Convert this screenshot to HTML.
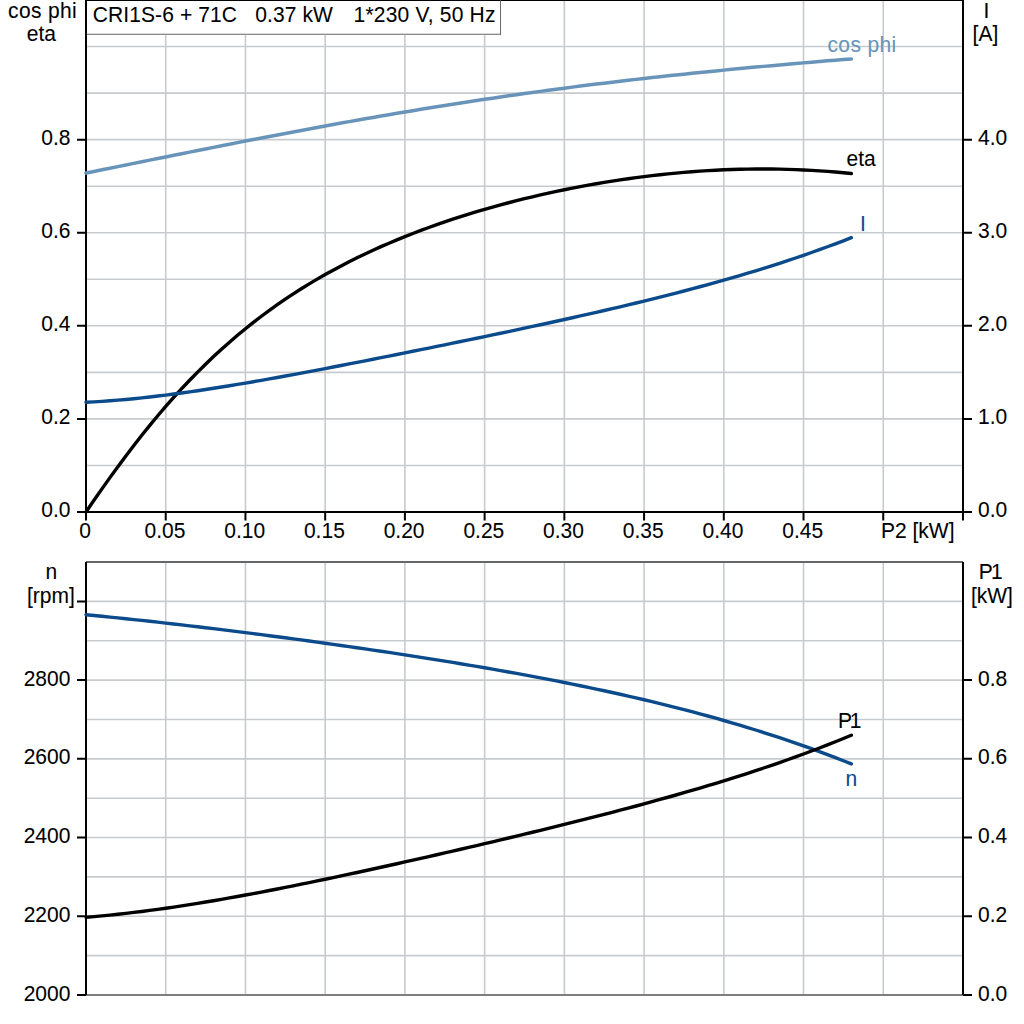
<!DOCTYPE html><html><head><meta charset="utf-8"><style>html,body{margin:0;padding:0;background:#fff;}svg{display:block;}text{font-family:"Liberation Sans",sans-serif;font-size:21px;fill:#000;stroke:#000;stroke-width:0.08px;}</style></head><body>
<svg width="1024" height="1024" viewBox="0 0 1024 1024">
<rect width="1024" height="1024" fill="#fff"/>
<path d="M165.73,0V512 M165.73,562V995 M245.45,0V512 M245.45,562V995 M325.18,0V512 M325.18,562V995 M404.90,0V512 M404.90,562V995 M484.62,0V512 M484.62,562V995 M564.35,0V512 M564.35,562V995 M644.08,0V512 M644.08,562V995 M723.80,0V512 M723.80,562V995 M803.52,0V512 M803.52,562V995 M883.25,0V512 M883.25,562V995 M86,465.45H963 M86,955.64H963 M86,418.91H963 M86,916.28H963 M86,372.37H963 M86,876.92H963 M86,325.82H963 M86,837.56H963 M86,279.27H963 M86,798.20H963 M86,232.73H963 M86,758.84H963 M86,186.19H963 M86,719.48H963 M86,139.64H963 M86,680.12H963 M86,93.10H963 M86,640.76H963 M86,46.55H963 M86,601.40H963" stroke="#c8cbce" stroke-width="1.6" fill="none"/>
<path d="M86,562H963" stroke="#656669" stroke-width="2" fill="none"/>
<path d="M86,995H963" stroke="#7e7e7e" stroke-width="2" fill="none"/>
<path d="M86,0.5H963" stroke="#000" stroke-width="1" fill="none"/>
<path d="M86,0V513 M963,0V513 M85,512H964 M86,562V995 M963,562V995 M77,512.00H86 M963,512.00H972 M77,418.91H86 M963,418.91H972 M77,325.82H86 M963,325.82H972 M77,232.73H86 M963,232.73H972 M77,139.64H86 M963,139.64H972 M86.00,512V520.5 M165.73,512V520.5 M245.45,512V520.5 M325.18,512V520.5 M404.90,512V520.5 M484.62,512V520.5 M564.35,512V520.5 M644.08,512V520.5 M723.80,512V520.5 M803.52,512V520.5 M883.25,512V520.5 M962.98,512V520.5 M77,995.00H86 M77,916.28H86 M77,837.56H86 M77,758.84H86 M77,680.12H86 M77,601.40H86 M963,995.00H972 M963,916.28H972 M963,837.56H972 M963,758.84H972 M963,680.12H972" stroke="#000" stroke-width="2" fill="none"/>
<rect x="86" y="0" width="414.5" height="34.5" fill="#fff" stroke="none"/>
<path d="M86,33.5H500" stroke="#dadada" stroke-width="1" fill="none"/>
<path d="M86,34.5H500.5" stroke="#8a8a8a" stroke-width="1" fill="none"/>
<path d="M500.5,0V35" stroke="#6a6a6a" stroke-width="1" fill="none"/>
<path d="M86,0.5H500.5" stroke="#000" stroke-width="1" fill="none"/>
<path d="M86,0V35" stroke="#000" stroke-width="2" fill="none"/>
<path d="M86.00,173.05 L93.97,171.44 L101.94,169.84 L109.92,168.23 L117.89,166.61 L125.86,165.00 L133.84,163.39 L141.81,161.78 L149.78,160.16 L157.75,158.55 L165.73,156.94 L173.70,155.34 L181.67,153.74 L189.64,152.14 L197.62,150.54 L205.59,148.95 L213.56,147.37 L221.53,145.79 L229.50,144.22 L237.48,142.65 L245.45,141.09 L253.42,139.54 L261.39,137.99 L269.37,136.46 L277.34,134.93 L285.31,133.41 L293.28,131.91 L301.26,130.41 L309.23,128.92 L317.20,127.44 L325.17,125.98 L333.15,124.52 L341.12,123.08 L349.09,121.65 L357.06,120.23 L365.04,118.82 L373.01,117.42 L380.98,116.04 L388.95,114.67 L396.93,113.32 L404.90,111.98 L412.87,110.65 L420.84,109.33 L428.82,108.03 L436.79,106.74 L444.76,105.47 L452.74,104.21 L460.71,102.97 L468.68,101.74 L476.65,100.53 L484.62,99.33 L492.60,98.15 L500.57,96.98 L508.54,95.82 L516.52,94.68 L524.49,93.56 L532.46,92.45 L540.43,91.36 L548.40,90.28 L556.38,89.21 L564.35,88.16 L572.32,87.13 L580.30,86.11 L588.27,85.10 L596.24,84.11 L604.21,83.14 L612.19,82.17 L620.16,81.23 L628.13,80.29 L636.10,79.37 L644.08,78.47 L652.05,77.58 L660.02,76.70 L667.99,75.83 L675.97,74.98 L683.94,74.14 L691.91,73.31 L699.88,72.50 L707.86,71.69 L715.83,70.90 L723.80,70.12 L731.77,69.35 L739.75,68.59 L747.72,67.85 L755.69,67.11 L763.66,66.38 L771.63,65.66 L779.61,64.95 L787.58,64.25 L795.55,63.56 L803.52,62.87 L811.50,62.19 L819.47,61.52 L827.44,60.85 L835.42,60.20 L843.39,59.54 L851.36,58.89" stroke="#6994ba" stroke-width="3.5" fill="none" stroke-linecap="round" stroke-linejoin="round"/>
<path d="M86.00,512.00 L93.97,500.32 L101.94,488.85 L109.92,477.62 L117.89,466.63 L125.86,455.90 L133.84,445.44 L141.81,435.26 L149.78,425.36 L157.75,415.76 L165.73,406.44 L173.70,397.42 L181.67,388.69 L189.64,380.24 L197.62,372.08 L205.59,364.19 L213.56,356.58 L221.53,349.23 L229.50,342.15 L237.48,335.31 L245.45,328.73 L253.42,322.38 L261.39,316.25 L269.37,310.35 L277.34,304.66 L285.31,299.18 L293.28,293.90 L301.26,288.80 L309.23,283.88 L317.20,279.14 L325.17,274.57 L333.15,270.15 L341.12,265.89 L349.09,261.78 L357.06,257.81 L365.04,253.97 L373.01,250.26 L380.98,246.67 L388.95,243.21 L396.93,239.85 L404.90,236.61 L412.87,233.47 L420.84,230.43 L428.82,227.49 L436.79,224.64 L444.76,221.89 L452.74,219.21 L460.71,216.63 L468.68,214.12 L476.65,211.70 L484.62,209.35 L492.60,207.08 L500.57,204.88 L508.54,202.75 L516.52,200.69 L524.49,198.70 L532.46,196.78 L540.43,194.92 L548.40,193.13 L556.38,191.40 L564.35,189.74 L572.32,188.14 L580.30,186.60 L588.27,185.13 L596.24,183.72 L604.21,182.37 L612.19,181.09 L620.16,179.86 L628.13,178.70 L636.10,177.61 L644.08,176.57 L652.05,175.60 L660.02,174.69 L667.99,173.85 L675.97,173.08 L683.94,172.37 L691.91,171.72 L699.88,171.14 L707.86,170.63 L715.83,170.19 L723.80,169.81 L731.77,169.51 L739.75,169.27 L747.72,169.10 L755.69,169.01 L763.66,168.98 L771.63,169.03 L779.61,169.15 L787.58,169.34 L795.55,169.61 L803.52,169.95 L811.50,170.36 L819.47,170.84 L827.44,171.40 L835.42,172.04 L843.39,172.75 L851.36,173.53" stroke="#000" stroke-width="3.4" fill="none" stroke-linecap="round" stroke-linejoin="round"/>
<path d="M86.00,402.23 L93.97,401.83 L101.94,401.34 L109.92,400.78 L117.89,400.15 L125.86,399.45 L133.84,398.69 L141.81,397.87 L149.78,396.99 L157.75,396.06 L165.73,395.08 L173.70,394.05 L181.67,392.97 L189.64,391.85 L197.62,390.70 L205.59,389.51 L213.56,388.28 L221.53,387.02 L229.50,385.73 L237.48,384.41 L245.45,383.07 L253.42,381.70 L261.39,380.31 L269.37,378.90 L277.34,377.47 L285.31,376.03 L293.28,374.56 L301.26,373.08 L309.23,371.59 L317.20,370.08 L325.17,368.56 L333.15,367.03 L341.12,365.49 L349.09,363.95 L357.06,362.39 L365.04,360.82 L373.01,359.25 L380.98,357.67 L388.95,356.08 L396.93,354.48 L404.90,352.88 L412.87,351.28 L420.84,349.67 L428.82,348.05 L436.79,346.43 L444.76,344.80 L452.74,343.16 L460.71,341.52 L468.68,339.88 L476.65,338.22 L484.62,336.56 L492.60,334.90 L500.57,333.22 L508.54,331.54 L516.52,329.85 L524.49,328.15 L532.46,326.44 L540.43,324.73 L548.40,323.00 L556.38,321.25 L564.35,319.50 L572.32,317.73 L580.30,315.95 L588.27,314.15 L596.24,312.34 L604.21,310.51 L612.19,308.66 L620.16,306.79 L628.13,304.90 L636.10,302.99 L644.08,301.06 L652.05,299.10 L660.02,297.11 L667.99,295.10 L675.97,293.06 L683.94,291.00 L691.91,288.89 L699.88,286.76 L707.86,284.59 L715.83,282.39 L723.80,280.15 L731.77,277.87 L739.75,275.55 L747.72,273.18 L755.69,270.77 L763.66,268.32 L771.63,265.81 L779.61,263.26 L787.58,260.65 L795.55,257.99 L803.52,255.28 L811.50,252.50 L819.47,249.67 L827.44,246.77 L835.42,243.81 L843.39,240.79 L851.36,237.69" stroke="#0b4a8b" stroke-width="3.4" fill="none" stroke-linecap="round" stroke-linejoin="round"/>
<path d="M86.00,614.74 L93.97,615.51 L101.94,616.29 L109.92,617.09 L117.89,617.90 L125.86,618.73 L133.84,619.57 L141.81,620.43 L149.78,621.30 L157.75,622.18 L165.73,623.07 L173.70,623.98 L181.67,624.89 L189.64,625.82 L197.62,626.76 L205.59,627.72 L213.56,628.68 L221.53,629.65 L229.50,630.63 L237.48,631.63 L245.45,632.63 L253.42,633.65 L261.39,634.67 L269.37,635.70 L277.34,636.75 L285.31,637.80 L293.28,638.86 L301.26,639.94 L309.23,641.02 L317.20,642.11 L325.17,643.22 L333.15,644.33 L341.12,645.45 L349.09,646.59 L357.06,647.74 L365.04,648.89 L373.01,650.06 L380.98,651.24 L388.95,652.43 L396.93,653.63 L404.90,654.85 L412.87,656.08 L420.84,657.32 L428.82,658.58 L436.79,659.85 L444.76,661.13 L452.74,662.43 L460.71,663.74 L468.68,665.07 L476.65,666.42 L484.62,667.79 L492.60,669.17 L500.57,670.57 L508.54,671.99 L516.52,673.43 L524.49,674.89 L532.46,676.37 L540.43,677.87 L548.40,679.40 L556.38,680.95 L564.35,682.52 L572.32,684.12 L580.30,685.74 L588.27,687.39 L596.24,689.07 L604.21,690.77 L612.19,692.51 L620.16,694.27 L628.13,696.07 L636.10,697.90 L644.08,699.77 L652.05,701.66 L660.02,703.60 L667.99,705.57 L675.97,707.58 L683.94,709.62 L691.91,711.71 L699.88,713.84 L707.86,716.01 L715.83,718.23 L723.80,720.49 L731.77,722.79 L739.75,725.15 L747.72,727.55 L755.69,730.00 L763.66,732.51 L771.63,735.07 L779.61,737.68 L787.58,740.35 L795.55,743.08 L803.52,745.87 L811.50,748.71 L819.47,751.62 L827.44,754.60 L835.42,757.64 L843.39,760.74 L851.36,763.92" stroke="#0b4a8b" stroke-width="3.4" fill="none" stroke-linecap="round" stroke-linejoin="round"/>
<path d="M86.00,917.23 L93.97,916.57 L101.94,915.85 L109.92,915.08 L117.89,914.25 L125.86,913.37 L133.84,912.43 L141.81,911.45 L149.78,910.42 L157.75,909.34 L165.73,908.22 L173.70,907.06 L181.67,905.86 L189.64,904.62 L197.62,903.35 L205.59,902.04 L213.56,900.70 L221.53,899.33 L229.50,897.93 L237.48,896.50 L245.45,895.04 L253.42,893.56 L261.39,892.05 L269.37,890.52 L277.34,888.97 L285.31,887.40 L293.28,885.80 L301.26,884.19 L309.23,882.57 L317.20,880.92 L325.17,879.26 L333.15,877.59 L341.12,875.90 L349.09,874.19 L357.06,872.48 L365.04,870.75 L373.01,869.01 L380.98,867.26 L388.95,865.50 L396.93,863.73 L404.90,861.95 L412.87,860.16 L420.84,858.36 L428.82,856.56 L436.79,854.74 L444.76,852.92 L452.74,851.08 L460.71,849.24 L468.68,847.39 L476.65,845.54 L484.62,843.67 L492.60,841.79 L500.57,839.91 L508.54,838.01 L516.52,836.11 L524.49,834.20 L532.46,832.27 L540.43,830.33 L548.40,828.39 L556.38,826.43 L564.35,824.45 L572.32,822.47 L580.30,820.47 L588.27,818.45 L596.24,816.42 L604.21,814.37 L612.19,812.31 L620.16,810.22 L628.13,808.11 L636.10,805.99 L644.08,803.84 L652.05,801.67 L660.02,799.47 L667.99,797.25 L675.97,795.00 L683.94,792.72 L691.91,790.41 L699.88,788.07 L707.86,785.70 L715.83,783.29 L723.80,780.85 L731.77,778.36 L739.75,775.84 L747.72,773.28 L755.69,770.67 L763.66,768.01 L771.63,765.31 L779.61,762.56 L787.58,759.75 L795.55,756.90 L803.52,753.98 L811.50,751.01 L819.47,747.98 L827.44,744.88 L835.42,741.72 L843.39,738.49 L851.36,735.20" stroke="#000" stroke-width="3.4" fill="none" stroke-linecap="round" stroke-linejoin="round"/>
<text transform="translate(92.8,22) scale(1,1.07)" text-anchor="start" letter-spacing="0.1">CRI1S-6 + 71C</text>
<text transform="translate(255.3,22) scale(1,1.07)" text-anchor="start" letter-spacing="0.1">0.37 kW</text>
<text transform="translate(353.6,22) scale(1,1.07)" text-anchor="start" letter-spacing="0.2">1*230 V, 50 Hz</text>
<text transform="translate(42.6,18) scale(1,1.07)" text-anchor="middle" letter-spacing="0.35">cos phi</text>
<text transform="translate(41.4,41) scale(1,1.07)" text-anchor="middle">eta</text>
<text transform="translate(986.3,18) scale(1,1.07)" text-anchor="middle">I</text>
<text transform="translate(985.4,41) scale(1,1.07)" text-anchor="middle">[A]</text>
<text transform="translate(51.4,579) scale(1,1.07)" text-anchor="middle">n</text>
<text transform="translate(50.9,603) scale(1,1.07)" text-anchor="middle">[rpm]</text>
<text transform="translate(989.9,579) scale(1,1.07)" text-anchor="middle" letter-spacing="-1.8">P1</text>
<text transform="translate(991.9,603) scale(1,1.07)" text-anchor="middle">[kW]</text>
<text transform="translate(70.4,517) scale(1,1.07)" text-anchor="end">0.0</text>
<text transform="translate(70.4,424) scale(1,1.07)" text-anchor="end">0.2</text>
<text transform="translate(70.4,331) scale(1,1.07)" text-anchor="end">0.4</text>
<text transform="translate(70.4,238) scale(1,1.07)" text-anchor="end">0.6</text>
<text transform="translate(70.4,145) scale(1,1.07)" text-anchor="end">0.8</text>
<text transform="translate(978,517) scale(1,1.07)" text-anchor="start">0.0</text>
<text transform="translate(978,424) scale(1,1.07)" text-anchor="start">1.0</text>
<text transform="translate(978,331) scale(1,1.07)" text-anchor="start">2.0</text>
<text transform="translate(978,238) scale(1,1.07)" text-anchor="start">3.0</text>
<text transform="translate(978,145) scale(1,1.07)" text-anchor="start">4.0</text>
<text transform="translate(85.2,538) scale(1,1.07)" text-anchor="middle">0</text>
<text transform="translate(164.93,538) scale(1,1.07)" text-anchor="middle">0.05</text>
<text transform="translate(244.65,538) scale(1,1.07)" text-anchor="middle">0.10</text>
<text transform="translate(324.38,538) scale(1,1.07)" text-anchor="middle">0.15</text>
<text transform="translate(404.1,538) scale(1,1.07)" text-anchor="middle">0.20</text>
<text transform="translate(483.82,538) scale(1,1.07)" text-anchor="middle">0.25</text>
<text transform="translate(563.55,538) scale(1,1.07)" text-anchor="middle">0.30</text>
<text transform="translate(643.28,538) scale(1,1.07)" text-anchor="middle">0.35</text>
<text transform="translate(723.0,538) scale(1,1.07)" text-anchor="middle">0.40</text>
<text transform="translate(802.73,538) scale(1,1.07)" text-anchor="middle">0.45</text>
<text transform="translate(881,538) scale(1,1.07)" text-anchor="start">P2 [kW]</text>
<text transform="translate(70.4,1001) scale(1,1.07)" text-anchor="end">2000</text>
<text transform="translate(70.4,922) scale(1,1.07)" text-anchor="end">2200</text>
<text transform="translate(70.4,843) scale(1,1.07)" text-anchor="end">2400</text>
<text transform="translate(70.4,764) scale(1,1.07)" text-anchor="end">2600</text>
<text transform="translate(70.4,686) scale(1,1.07)" text-anchor="end">2800</text>
<text transform="translate(978,1001) scale(1,1.07)" text-anchor="start">0.0</text>
<text transform="translate(978,922) scale(1,1.07)" text-anchor="start">0.2</text>
<text transform="translate(978,843) scale(1,1.07)" text-anchor="start">0.4</text>
<text transform="translate(978,764) scale(1,1.07)" text-anchor="start">0.6</text>
<text transform="translate(978,686) scale(1,1.07)" text-anchor="start">0.8</text>
<text transform="translate(827.5,51.5) scale(1,1.07)" text-anchor="start" style="fill:#6994ba;stroke:#6994ba" letter-spacing="0.38">cos phi</text>
<text transform="translate(846.5,165.6) scale(1,1.07)" text-anchor="start">eta</text>
<text transform="translate(860,231) scale(1,1.07)" text-anchor="start" style="fill:#0b4a8b;stroke:#0b4a8b">I</text>
<text transform="translate(838.0,728) scale(1,1.07)" text-anchor="start" letter-spacing="-2.2">P1</text>
<text transform="translate(845.5,786) scale(1,1.07)" text-anchor="start" style="fill:#0b4a8b;stroke:#0b4a8b">n</text>
</svg></body></html>
